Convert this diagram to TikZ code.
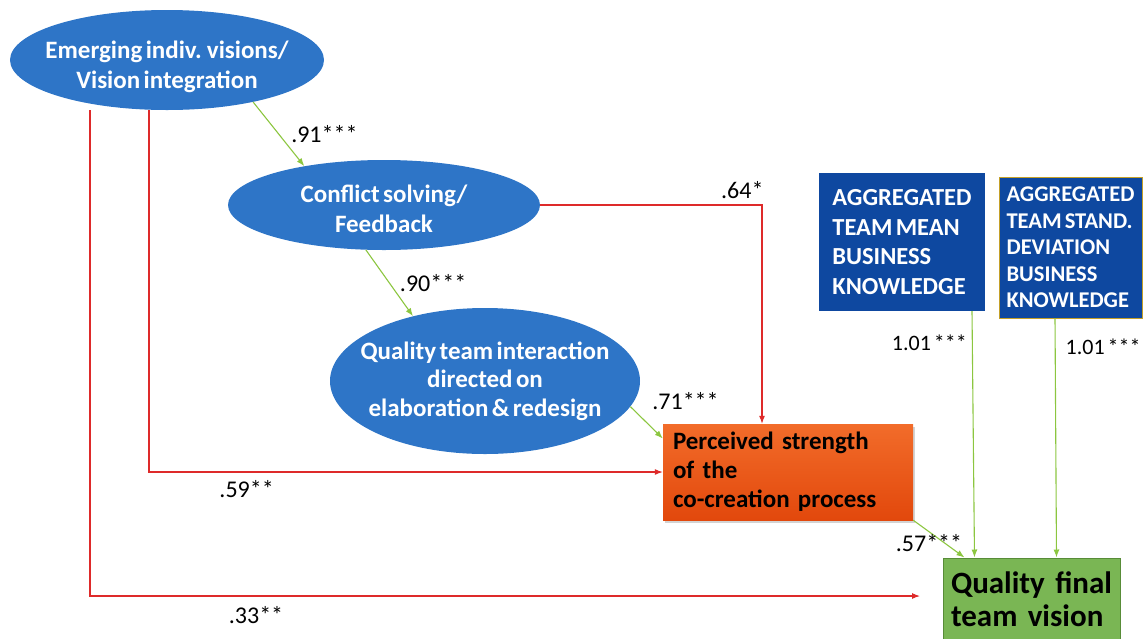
\documentclass[tikz,border=0pt]{standalone}
\usepackage{fontspec}
\setmainfont{Carlito}[WordSpace=0.6]
\newfontfamily\tightfont{Carlito}[WordSpace=0.3]
\usetikzlibrary{positioning,arrows.meta,shapes.geometric,shadows}
\definecolor{ellblue}{RGB}{46,117,199}
\definecolor{knowblue}{RGB}{14,72,160}
\definecolor{goldline}{RGB}{196,160,40}
\definecolor{orangetop}{RGB}{242,108,42}
\definecolor{orangebot}{RGB}{226,72,12}
\definecolor{visgreen}{RGB}{122,182,84}
\definecolor{visedge}{RGB}{88,140,56}
\definecolor{pathred}{RGB}{222,42,42}
\definecolor{pathgreen}{RGB}{140,198,64}

\begin{document}
\begin{tikzpicture}[x=1pt,y=-1pt,
    proc/.style={ellipse,fill=ellblue,text=white,align=center,
      inner xsep=-30pt,inner ysep=0pt,font=\bfseries\fontsize{25}{30}\selectfont},
    tile/.style={rectangle,align=left,inner ysep=0pt},
    gpath/.style={-{Latex[length=8pt,width=6pt]},pathgreen,line width=1.1pt},
    rpath/.style={-{Latex[length=8pt,width=6pt]},pathred,line width=1.1pt},
    coef/.style={inner sep=1pt,text=black,font=\fontsize{24}{28}\selectfont}]
  \useasboundingbox (0,0) rectangle (1146,638);

  \node[proc,minimum width=314pt,minimum height=100pt,text height=62pt] (emerge) at (167,60)
     {Emerging indiv. visions/\\Vision integration};
  \node[proc,minimum width=312pt,minimum height=90pt,text height=55pt] (conflict) at (384,205)
     {Conflict solving/\\Feedback};
  \node[proc,minimum width=310pt,minimum height=146pt,
     font=\bfseries\fontsize{25}{28.5}\selectfont] (interact) at (485,381)
     {Quality team interaction\\directed on\\elaboration \& redesign};

  \node[tile,fill=knowblue,text=white,minimum width=166pt,minimum height=138pt,
     font=\bfseries\fontsize{24.5}{29.5}\selectfont]
     (mean) at (902,242) {AGGREGATED\\TEAM MEAN\\BUSINESS\\KNOWLEDGE};
  \node[tile,fill=knowblue,draw=goldline,line width=.8pt,text=white,
     minimum width=143pt,minimum height=141pt,
     font=\bfseries\fontsize{22.5}{26.5}\selectfont]
     (spread) at (1070.5,247.5) {AGGREGATED\\TEAM STAND.\\DEVIATION\\BUSINESS\\KNOWLEDGE};

  \node[tile,top color=orangetop,bottom color=orangebot,
     drop shadow={opacity=.35,shadow xshift=2pt,shadow yshift=-3pt},
     minimum width=250pt,minimum height=96pt,text width=230pt,inner xsep=10pt,
     font=\tightfont\bfseries\fontsize{25}{29}\selectfont]
     (strength) at (788,472) {Perceived strength\\of the\\co-creation process};
  \node[tile,fill=visgreen,draw=visedge,line width=1pt,minimum width=177pt,
     minimum height=82pt,text width=161pt,inner xsep=8pt,
     font=\tightfont\bfseries\fontsize{31}{33}\selectfont]
     (vision) at (1031.5,599) {Quality final\\team vision};
  \coordinate (direct) at (920,596);

  \draw[gpath] (emerge.-26) -- node[coef,right=11pt]{.91***} (conflict.154);
  \draw[gpath] (conflict.-112) -- node[coef,right=9pt]{.90***} (interact.138);
  \draw[gpath] (interact.-10) -- node[coef,pos=.2,above right={2pt and 14pt}]{.71***} (strength.165);
  \draw[rpath] (conflict.east) -| node[coef,pos=.5,above left={5pt and -3pt}]{.64*}
     ([xshift=-26pt]strength.north);
  \draw[rpath] ([xshift=-18pt]emerge.south) |- node[coef,pos=.595,below=7pt]{.59**}
     (strength.west);
  \draw[rpath] ([xshift=-77pt]emerge.south) |- node[coef,pos=.6,below=9pt]{.33**}
     (direct);
  \draw[gpath] (strength.south east) -- node[coef,pos=.6,xshift=-15pt]{.57***}
     ([xshift=22pt]vision.north west);
  \draw[gpath] ([xshift=70pt]mean.south) -- node[coef,pos=.13,left=4pt,
     font=\fontsize{22}{26}\selectfont]{1.01 ***} ([xshift=32pt]vision.north west);
  \draw[gpath] ([xshift=-15.5pt]spread.south) -- node[coef,pos=.12,right=9pt,
     font=\fontsize{22}{26}\selectfont]{1.01 ***} ([xshift=114pt]vision.north west);
\end{tikzpicture}
\end{document}
